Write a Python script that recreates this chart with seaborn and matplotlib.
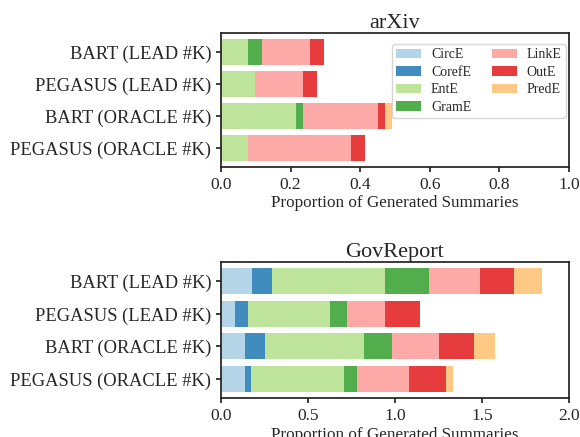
import numpy as np
import pandas as pd
import matplotlib.pyplot as plt
import seaborn as sns

models = ['BART (LEAD #K)', 'PEGASUS (LEAD #K)', 'BART (ORACLE #K)', 'PEGASUS (ORACLE #K)']
errors = ['CircE', 'CorefE', 'EntE', 'GramE', 'LinkE', 'OutE', 'PredE']

# доли по типам ошибок, порядок как в models
arxiv_circ = [0.0, 0.0, 0.0, 0.0]
arxiv_coref = [0.0, 0.0, 0.0, 0.0]
arxiv_ent = [0.078, 0.098, 0.216, 0.078]
arxiv_gram = [0.040, 0.0, 0.020, 0.0]
arxiv_link = [0.138, 0.138, 0.215, 0.296]
arxiv_out = [0.040, 0.040, 0.020, 0.040]
arxiv_pred = [0.0, 0.0, 0.020, 0.0]

gov_circ = [0.176, 0.080, 0.138, 0.138]
gov_coref = [0.117, 0.075, 0.115, 0.034]
gov_ent = [0.650, 0.471, 0.567, 0.535]
gov_gram = [0.252, 0.098, 0.161, 0.075]
gov_link = [0.293, 0.219, 0.270, 0.298]
gov_out = [0.196, 0.201, 0.201, 0.213]
gov_pred = [0.161, 0.0, 0.120, 0.040]

sns.set_theme(style='ticks')
plt.rcParams['font.family'] = ['Liberation Serif', 'DejaVu Serif']

base = sns.color_palette('Paired', 7)
# светлее, как с прозрачностью
colors = [tuple(0.85 * np.array(c) + 0.15) for c in base]


def stacked(ax, vals, xmax, ticks):
    df = pd.DataFrame(dict(zip(errors, vals)), index=models)
    cum = df.cumsum(axis=1)
    # рисуем с конца, чтобы короткие накрывали длинные
    for i in range(len(errors) - 1, -1, -1):
        d = pd.DataFrame({'model': models, 'v': cum[errors[i]].values})
        sns.barplot(data=d, x='v', y='model', color=colors[i], width=0.8,
                    ax=ax, label=errors[i], saturation=1, linewidth=0)
    ax.set_xlim(0, xmax)
    ax.set_xticks(ticks)
    ax.set_ylim(3.59, -0.59)
    ax.set_ylabel('')
    ax.set_xlabel('Proportion of Generated Summaries', fontsize=12.3, labelpad=2)
    ax.tick_params(axis='y', labelsize=13.3, length=3.5)
    ax.tick_params(axis='x', labelsize=12.5, length=3.5)
    for s in ax.spines.values():
        s.set_color('#222222')


fig = plt.figure(figsize=(5.8, 4.37), dpi=100)
ax1 = fig.add_axes([0.381, 0.618, 0.6, 0.306])
ax2 = fig.add_axes([0.381, 0.089, 0.6, 0.311])

stacked(ax1, [arxiv_circ, arxiv_coref, arxiv_ent, arxiv_gram,
              arxiv_link, arxiv_out, arxiv_pred], 1.0, np.arange(0, 1.01, 0.2))
ax1.set_title('arXiv', fontsize=16, pad=4)
h, l = ax1.get_legend_handles_labels()
ax1.legend(h[::-1], l[::-1], ncol=2, fontsize=10, loc='upper right',
           bbox_to_anchor=(0.991, 0.918), borderaxespad=0, borderpad=0.3,
           labelspacing=0.32, columnspacing=1.5, handletextpad=0.7,
           handlelength=1.8)

stacked(ax2, [gov_circ, gov_coref, gov_ent, gov_gram,
              gov_link, gov_out, gov_pred], 2.0, [0, 0.5, 1.0, 1.5, 2.0])
ax2.set_title('GovReport', fontsize=16, pad=4)
ax2.get_legend().remove()

fig.savefig('out.png', dpi=100)
